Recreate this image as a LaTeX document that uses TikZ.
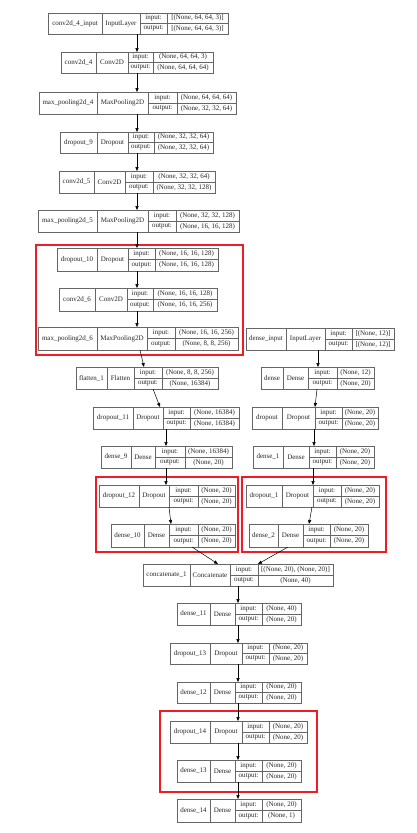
\documentclass[tikz,border=0pt]{standalone}
\usepackage{fontspec}
\setmainfont{Liberation Serif}
\usetikzlibrary{arrows.meta}

\definecolor{groupred}{RGB}{238,28,36}

% geometry string: x0/x1/x2/x3/x4/ytop/ybottom
\def\kparse#1/#2/#3/#4/#5/#6/#7\relax{%
  \def\kxa{#1}\def\kxb{#2}\def\kxc{#3}\def\kxd{#4}\def\kxe{#5}%
  \def\kya{#6}\def\kyb{#7}}

% one layer record: id, geometry, layer name, layer type, input shape, output shape
\def\klayer#1#2#3#4#5#6{%
  \kparse#2\relax
  \node[lbox, minimum width={(\kxe-\kxa)*1pt}, minimum height={(\kyb-\kya)*1pt},
        anchor=north west] (#1) at (\kxa,\kya) {};
  \draw[cell] (\kxb,\kya) -- (\kxb,\kyb)
              (\kxc,\kya) -- (\kxc,\kyb)
              (\kxd,\kya) -- (\kxd,\kyb)
              (\kxc,{(\kya+\kyb)/2}) -- (\kxe,{(\kya+\kyb)/2});
  \node[txt] (#1-name) at ({(\kxa+\kxb)/2},{(\kya+\kyb)/2}) {#3};
  \node[txt] (#1-type) at ({(\kxb+\kxc)/2},{(\kya+\kyb)/2}) {#4};
  \node[txt] (#1-inl)  at ({(\kxc+\kxd)/2},{(3*\kya+\kyb)/4}) {input:};
  \node[txt] (#1-outl) at ({(\kxc+\kxd)/2},{(\kya+3*\kyb)/4}) {output:};
  \node[txt] (#1-in)   at ({(\kxd+\kxe)/2},{(3*\kya+\kyb)/4}) {#5};
  \node[txt] (#1-out)  at ({(\kxd+\kxe)/2},{(\kya+3*\kyb)/4}) {#6};
}

\tikzset{
  lbox/.style={draw=black!60, line width=0.6pt, inner sep=0pt, outer sep=0pt, fill=white},
  cell/.style={draw=black!60, line width=0.6pt},
  txt/.style={inner sep=0pt, font=\fontsize{7}{8}\selectfont, text=black!85},
  arr/.style={draw=black, line width=0.5pt, -{Triangle[length=4pt,width=3.2pt]}},
  group/.style={draw=groupred, line width=1.5pt},
}

\begin{document}
\begin{tikzpicture}[x=1pt,y=-1pt]
\useasboundingbox (0,0) rectangle (417,833);

% image branch
\klayer{c4in}{48/102/140/167/228/13/34}{conv2d\_4\_input}{InputLayer}{[(None, 64, 64, 3)]}{[(None, 64, 64, 3)]}
\klayer{c4}{61/96/128/153/213/52/73}{conv2d\_4}{Conv2D}{(None, 64, 64, 3)}{(None, 64, 64, 64)}
\klayer{mp4}{39/97/148/177/236/92/114}{max\_pooling2d\_4}{MaxPooling2D}{(None, 64, 64, 64)}{(None, 32, 32, 64)}
\klayer{do9}{60/97/128/154/213/132/153}{dropout\_9}{Dropout}{(None, 32, 32, 64)}{(None, 32, 32, 64)}
\klayer{c5}{59/94/125/153/215/171/193}{conv2d\_5}{Conv2D}{(None, 32, 32, 64)}{(None, 32, 32, 128)}
\klayer{mp5}{38/97/148/176/239/210/232}{max\_pooling2d\_5}{MaxPooling2D}{(None, 32, 32, 128)}{(None, 16, 16, 128)}
\klayer{do10}{57/97/128/155/218/248/271}{dropout\_10}{Dropout}{(None, 16, 16, 128)}{(None, 16, 16, 128)}
\klayer{c6}{59/95/127/153/217/288/311}{conv2d\_6}{Conv2D}{(None, 16, 16, 128)}{(None, 16, 16, 256)}
\klayer{mp6}{38/97/147/175/238/327/350}{max\_pooling2d\_6}{MaxPooling2D}{(None, 16, 16, 256)}{(None, 8, 8, 256)}
\klayer{fl1}{76/107/134/162/218/367/389}{flatten\_1}{Flatten}{(None, 8, 8, 256)}{(None, 16384)}
\klayer{do11}{93/133/163/190/239/407/429}{dropout\_11}{Dropout}{(None, 16384)}{(None, 16384)}
\klayer{d9}{101/131/155/185/232/446/468}{dense\_9}{Dense}{(None, 16384)}{(None, 20)}
\klayer{do12}{99/139/169/198/235/485/507}{dropout\_12}{Dropout}{(None, 20)}{(None, 20)}
\klayer{d10}{111/144/169/198/235/524/547}{dense\_10}{Dense}{(None, 20)}{(None, 20)}

% tabular branch
\klayer{din}{246/286/325/352/394/328/350}{dense\_input}{InputLayer}{[(None, 12)]}{[(None, 12)]}
\klayer{d0}{261/283/308/337/374/367/389}{dense}{Dense}{(None, 12)}{(None, 20)}
\klayer{do0}{252/282/315/342/378/407/429}{dropout}{Dropout}{(None, 20)}{(None, 20)}
\klayer{d1}{253/283/309/336/374/446/468}{dense\_1}{Dense}{(None, 20)}{(None, 20)}
\klayer{do1}{246/282/313/341/379/485/507}{dropout\_1}{Dropout}{(None, 20)}{(None, 20)}
\klayer{d2}{249/278/303/330/368/524/547}{dense\_2}{Dense}{(None, 20)}{(None, 20)}

% merged head
\klayer{cat}{143/190/230/258/333/564/586}{concatenate\_1}{Concatenate}{[(None, 20), (None, 20)]}{(None, 40)}
\klayer{d11}{177/210/235/262/301/603/625}{dense\_11}{Dense}{(None, 40)}{(None, 20)}
\klayer{do13}{170/210/242/269/307/643/664}{dropout\_13}{Dropout}{(None, 20)}{(None, 20)}
\klayer{d12}{177/210/235/262/301/682/703}{dense\_12}{Dense}{(None, 20)}{(None, 20)}
\klayer{do14}{170/210/242/269/307/721/743}{dropout\_14}{Dropout}{(None, 20)}{(None, 20)}
\klayer{d13}{177/210/235/262/301/760/782}{dense\_13}{Dense}{(None, 20)}{(None, 20)}
\klayer{d14}{177/210/235/262/301/799/822}{dense\_14}{Dense}{(None, 20)}{(None, 1)}

% highlighted groups
\draw[group] (36,245) rectangle (243,355);
\draw[group] (96,477) rectangle (238,552);
\draw[group] (242,477) rectangle (386,552);
\draw[group] (160,711) rectangle (317,792);

% connectors
\draw[arr] (137,0 |- c4in.south) -- (137,0 |- c4.north);
\draw[arr] (137,0 |- c4.south) -- (137,0 |- mp4.north);
\draw[arr] (137,0 |- mp4.south) -- (137,0 |- do9.north);
\draw[arr] (137,0 |- do9.south) -- (137,0 |- c5.north);
\draw[arr] (137,0 |- c5.south) -- (137,0 |- mp5.north);
\draw[arr] (137,0 |- mp5.south) -- (137,0 |- do10.north);
\draw[arr] (137,0 |- do10.south) -- (137,0 |- c6.north);
\draw[arr] (137,0 |- c6.south) -- (137,0 |- mp6.north);
\draw[arr] (140,0 |- mp6.south) -- (144,0 |- fl1.north);
\draw[arr] (153,0 |- fl1.south) -- (160,0 |- do11.north);
\draw[arr] (166,0 |- do11.south) -- (166,0 |- d9.north);
\draw[arr] (166,0 |- d9.south) -- (166,0 |- do12.north);
\draw[arr] (169,0 |- do12.south) -- (171,0 |- d10.north);

\draw[arr] (318,0 |- din.south) -- (318,0 |- d0.north);
\draw[arr] (317,0 |- d0.south) -- (315,0 |- do0.north);
\draw[arr] (314,0 |- do0.south) -- (314,0 |- d1.north);
\draw[arr] (313,0 |- d1.south) -- (313,0 |- do1.north);
\draw[arr] (312,0 |- do1.south) -- (309,0 |- d2.north);

\draw[arr] (192,0 |- d10.south) -- (218,0 |- cat.north);
\draw[arr] (288,0 |- d2.south) -- (258,0 |- cat.north);
\draw[arr] (238,0 |- cat.south) -- (238,0 |- d11.north);
\draw[arr] (238,0 |- d11.south) -- (238,0 |- do13.north);
\draw[arr] (238,0 |- do13.south) -- (238,0 |- d12.north);
\draw[arr] (238,0 |- d12.south) -- (238,0 |- do14.north);
\draw[arr] (238,0 |- do14.south) -- (238,0 |- d13.north);
\draw[arr] (238,0 |- d13.south) -- (238,0 |- d14.north);
\end{tikzpicture}
\end{document}
